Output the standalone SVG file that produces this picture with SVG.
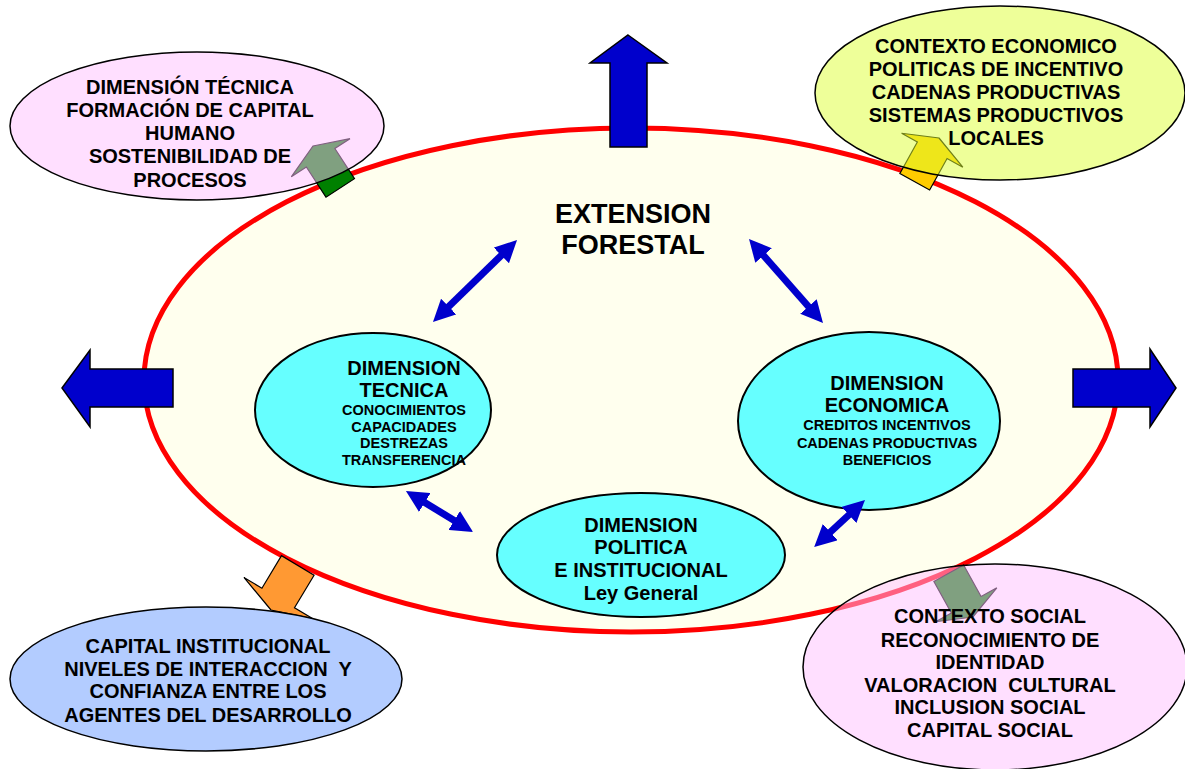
<svg xmlns="http://www.w3.org/2000/svg" width="1185" height="769" viewBox="0 0 1185 769">
<style>
.t{font-family:"Liberation Sans",Arial,sans-serif;font-weight:bold;text-anchor:middle;fill:#000}
.b{font-size:20px}
.s{font-size:14.5px}
.ti{font-size:27px}
.inner{fill:#66FFFF;stroke:#000;stroke-width:2}
.ctx{stroke:#000;stroke-width:1.5}
.blk{fill:#0000CC;stroke:#000;stroke-width:1.5;stroke-linejoin:miter}
.dbl{stroke:#0000CC;stroke-width:7;fill:none;marker-start:url(#ah);marker-end:url(#ah)}
.sa{stroke:#000;stroke-width:1.2}
</style>
<defs>
<marker id="ah" viewBox="0 0 22 22" refX="1" refY="11" markerWidth="22" markerHeight="22" markerUnits="userSpaceOnUse" orient="auto-start-reverse"><path d="M0,0 L22,11 L0,22 z" fill="#0000CC"/></marker>
<polygon id="sarrow" points="0,0 35,14 17,14 17,50 -17,50 -17,14 -35,14"/>
</defs>
<rect width="1185" height="769" fill="#fff"/>

<g id="extension-forestal">
<ellipse cx="631" cy="380" rx="487" ry="252" fill="#FFFFEE" stroke="#FF0000" stroke-width="5"/>
<text class="t ti" x="633" y="223">EXTENSION</text>
<text class="t ti" x="633" y="254">FORESTAL</text>
</g>

<g id="dimension-tecnica">
<ellipse class="inner" cx="373" cy="410" rx="118" ry="77"/>
<text class="t b" x="404" y="375">DIMENSION</text>
<text class="t b" x="404" y="397">TECNICA</text>
<text class="t s" x="404" y="415">CONOCIMIENTOS</text>
<text class="t s" x="404" y="432">CAPACIDADES</text>
<text class="t s" x="404" y="448">DESTREZAS</text>
<text class="t s" x="404" y="465">TRANSFERENCIA</text>
</g>

<g id="dimension-economica">
<ellipse class="inner" cx="869" cy="421" rx="131" ry="89"/>
<text class="t b" x="887" y="390">DIMENSION</text>
<text class="t b" x="887" y="412">ECONOMICA</text>
<text class="t s" x="887" y="430">CREDITOS INCENTIVOS</text>
<text class="t s" x="887" y="448">CADENAS PRODUCTIVAS</text>
<text class="t s" x="887" y="465">BENEFICIOS</text>
</g>

<g id="dimension-politica">
<ellipse class="inner" cx="641" cy="555" rx="144" ry="62"/>
<text class="t b" x="641" y="532">DIMENSION</text>
<text class="t b" x="641" y="554">POLITICA</text>
<text class="t b" x="641" y="577">E INSTITUCIONAL</text>
<text class="t b" x="641" y="600">Ley General</text>
</g>

<g id="connectors">
<line class="dbl" x1="448" y1="307.3" x2="502" y2="254.7"/>
<line class="dbl" x1="762.9" y1="254.8" x2="809.1" y2="307.2"/>
<line class="dbl" x1="423.9" y1="502" x2="455.1" y2="521"/>
<line class="dbl" x1="849.6" y1="514.2" x2="829.6" y2="532.8"/>
<use href="#sarrow" class="sa" fill="#008000" transform="translate(313,146) rotate(-33)"/>
<use href="#sarrow" class="sa" fill="#FFCC00" transform="translate(939,138) rotate(29)"/>
<use href="#sarrow" class="sa" fill="#008000" transform="translate(973,617) rotate(151)"/>
<polygon class="sa" fill="#FF9933" points="0,0 40,14 19,14 19,52 -19,52 -19,14 -40,14" transform="translate(271,610) rotate(-149)"/>
</g>

<g id="dimension-tecnica-capital-humano">
<ellipse class="ctx" cx="197" cy="126" rx="187" ry="74" fill="#FFC0FF" fill-opacity="0.5"/>
<text class="t b" x="190" y="94">DIMENSIÓN TÉCNICA</text>
<text class="t b" x="190" y="117">FORMACIÓN DE CAPITAL</text>
<text class="t b" x="190" y="140">HUMANO</text>
<text class="t b" x="190" y="163">SOSTENIBILIDAD DE</text>
<text class="t b" x="190" y="187">PROCESOS</text>
</g>

<g id="contexto-economico">
<ellipse class="ctx" cx="1000" cy="93" rx="185" ry="87" fill="#DDFF33" fill-opacity="0.5"/>
<text class="t b" x="996" y="53">CONTEXTO ECONOMICO</text>
<text class="t b" x="996" y="76">POLITICAS DE INCENTIVO</text>
<text class="t b" x="996" y="99">CADENAS PRODUCTIVAS</text>
<text class="t b" x="996" y="122">SISTEMAS PRODUCTIVOS</text>
<text class="t b" x="996" y="145">LOCALES</text>
</g>

<g id="contexto-social">
<ellipse class="ctx" cx="995" cy="667" rx="192" ry="103" fill="#FFC0FF" fill-opacity="0.5"/>
<text class="t b" x="990" y="623">CONTEXTO SOCIAL</text>
<text class="t b" x="990" y="647">RECONOCIMIENTO DE</text>
<text class="t b" x="990" y="669">IDENTIDAD</text>
<text class="t b" x="990" y="692" xml:space="preserve">VALORACION  CULTURAL</text>
<text class="t b" x="990" y="714">INCLUSION SOCIAL</text>
<text class="t b" x="990" y="737">CAPITAL SOCIAL</text>
</g>

<g id="capital-institucional">
<ellipse class="ctx" cx="206" cy="679" rx="196" ry="72" fill="#B3CCFF"/>
<text class="t b" x="208" y="653">CAPITAL INSTITUCIONAL</text>
<text class="t b" x="208" y="676" xml:space="preserve">NIVELES DE INTERACCION  Y</text>
<text class="t b" x="208" y="698">CONFIANZA ENTRE LOS</text>
<text class="t b" x="208" y="722">AGENTES DEL DESARROLLO</text>
</g>

<g id="big-arrows">
<polygon class="blk" points="628,35 667,63 647,63 647,147 610,147 610,63 590,63"/>
<polygon class="blk" points="62,388 90,350 90,369 173,369 173,407 90,407 90,427"/>
<polygon class="blk" points="1176,388 1150,349 1150,369 1073,369 1073,407 1150,407 1150,427"/>
</g>
</svg>
